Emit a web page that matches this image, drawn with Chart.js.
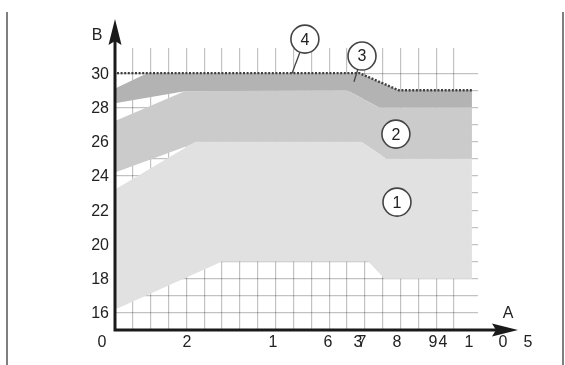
<!DOCTYPE html>
<html>
<head>
<meta charset="utf-8">
<script src="https://cdn.jsdelivr.net/npm/chart.js@4.4.1/dist/chart.umd.min.js"></script>
<style>
  html, body { margin: 0; padding: 0; background: #fff; }
  canvas { display: block; }
</style>
</head>
<body>
<canvas id="graph" width="565" height="365"></canvas>
<script>
// region outlines as [A, B] pairs, walked round the edge
const region1 = [[0, 23.2], [4.5, 26], [13.8, 26], [15.2, 25], [20, 25], [20, 18], [15.1, 18], [14.2, 19], [6, 19], [0, 16.2]];
const region2 = [[0, 27.2], [3.9, 28.95], [13, 29], [14.8, 28], [20, 28], [20, 25], [15.2, 25], [13.8, 26], [4.7, 26], [0, 24.2]];
const region3 = [[0, 29.1], [1.8, 30], [13.7, 30], [15.9, 29], [20, 29], [20, 28], [14.8, 28], [13, 29], [3.9, 28.95], [0, 28.25]];
const limitLine = [[0, 30], [13.7, 30], [15.9, 29], [20, 29]];

// tick labels
const yTickValues = [16, 18, 20, 22, 24, 26, 28, 30];
const xTickLabels = ["0", "2", "1", "6", "3", "7", "8", "9", "4", "1", "0", "5"];
const xTickAt = [-0.73, 4.03, 8.85, 11.93, 13.61, 13.84, 15.8, 17.82, 18.38, 19.83, 21.74, 23.14];

// numbered markers
const callouts = [
  { text: "4", at: [10.64, 31.99], to: [9.92, 30] },
  { text: "3", at: [13.84, 31.0], to: [13.39, 29.5] },
  { text: "2", at: [15.74, 26.44] },
  { text: "1", at: [15.8, 22.47] },
];

const toPoints = (arr) => arr.map(([x, y]) => ({ x, y }));
const font = '16px "Liberation Sans", Arial, sans-serif';

const band = (data, color) => ({
  data: toPoints(data),
  backgroundColor: color,
  borderWidth: 0,
  pointRadius: 0,
  fill: "shape",
  tension: 0,
});

const decorations = {
  id: "decorations",
  afterDraw(chart) {
    const { ctx, scales: { x, y } } = chart;
    const px = (v) => x.getPixelForValue(v);
    const py = (v) => y.getPixelForValue(v);
    const ox = px(0);
    const oy = py(15);

    ctx.save();

    // page frame lines
    ctx.strokeStyle = "#555";
    ctx.lineWidth = 1.5;
    ctx.beginPath();
    ctx.moveTo(7, 12);
    ctx.lineTo(7, 365);
    ctx.moveTo(563, 12);
    ctx.lineTo(563, 365);
    ctx.stroke();

    // limit line over the grid
    ctx.strokeStyle = "#3f3f3f";
    ctx.lineWidth = 2.4;
    ctx.setLineDash([2, 1.6]);
    ctx.beginPath();
    limitLine.forEach(([a, b], i) => {
      if (i === 0) ctx.moveTo(px(a) + 2, py(b));
      else ctx.lineTo(px(a), py(b));
    });
    ctx.stroke();
    ctx.setLineDash([]);

    // axes with arrow heads
    ctx.strokeStyle = "#1a1a1a";
    ctx.fillStyle = "#1a1a1a";
    ctx.lineWidth = 3;
    ctx.beginPath();
    ctx.moveTo(ox, oy + 1.5);
    ctx.lineTo(ox, 40);
    ctx.moveTo(ox - 1.5, oy);
    ctx.lineTo(496, oy);
    ctx.stroke();

    ctx.beginPath();
    ctx.moveTo(ox, 19);
    ctx.lineTo(ox - 6.5, 45);
    ctx.lineTo(ox, 41);
    ctx.lineTo(ox + 6.5, 45);
    ctx.closePath();
    ctx.fill();

    ctx.beginPath();
    ctx.moveTo(518, oy);
    ctx.lineTo(492, oy - 6.5);
    ctx.lineTo(496, oy);
    ctx.lineTo(492, oy + 6.5);
    ctx.closePath();
    ctx.fill();

    // labels
    ctx.font = font;
    ctx.fillStyle = "#222";
    ctx.textBaseline = "middle";
    ctx.textAlign = "right";
    yTickValues.forEach((v) => ctx.fillText(String(v), ox - 6, py(v) + 1));

    ctx.textAlign = "center";
    xTickLabels.forEach((t, i) => ctx.fillText(t, px(xTickAt[i]), oy + 13));
    ctx.fillText("B", 97, 36);
    ctx.fillText("A", 508, 314);

    // numbered markers
    const r = 14;
    callouts.forEach((c) => {
      const cx = px(c.at[0]);
      const cy = py(c.at[1]);
      if (c.to) {
        const tx = px(c.to[0]);
        const ty = py(c.to[1]);
        const ang = Math.atan2(ty - cy, tx - cx);
        ctx.strokeStyle = "#444";
        ctx.lineWidth = 1.3;
        ctx.beginPath();
        ctx.moveTo(cx + r * Math.cos(ang), cy + r * Math.sin(ang));
        ctx.lineTo(tx, ty);
        ctx.stroke();
      }
      ctx.beginPath();
      ctx.arc(cx, cy, r, 0, Math.PI * 2);
      ctx.fillStyle = "#fff";
      ctx.fill();
      ctx.strokeStyle = "#444";
      ctx.lineWidth = 1.6;
      ctx.stroke();
      ctx.fillStyle = "#222";
      ctx.fillText(c.text, cx, cy + 1);
    });

    ctx.restore();
  },
};

const onlyWhole = (scale) => {
  scale.ticks = scale.ticks.filter((t) => Number.isInteger(t.value));
};

new Chart(document.getElementById("graph").getContext("2d"), {
  type: "line",
  data: {
    datasets: [
      band(region1, "#e1e1e1"),
      band(region2, "#cbcbcb"),
      band(region3, "#b3b3b3"),
    ],
  },
  options: {
    responsive: false,
    animation: false,
    devicePixelRatio: 1,
    layout: { padding: { left: 115, right: 87, top: 48, bottom: 35 } },
    plugins: { legend: { display: false }, tooltip: { enabled: false } },
    scales: {
      x: {
        type: "linear",
        min: 0,
        max: 20.34,
        z: 1,
        afterBuildTicks: onlyWhole,
        ticks: { display: false, stepSize: 1 },
        grid: { color: "rgba(0,0,0,0.24)", lineWidth: 1.2, drawTicks: false },
        border: { display: false },
      },
      y: {
        type: "linear",
        min: 15,
        max: 31.47,
        z: 1,
        afterBuildTicks: onlyWhole,
        ticks: { display: false, stepSize: 1 },
        grid: { color: "rgba(0,0,0,0.24)", lineWidth: 1.2, drawTicks: false },
        border: { display: false },
      },
    },
  },
  plugins: [decorations],
});
</script>
</body>
</html>
